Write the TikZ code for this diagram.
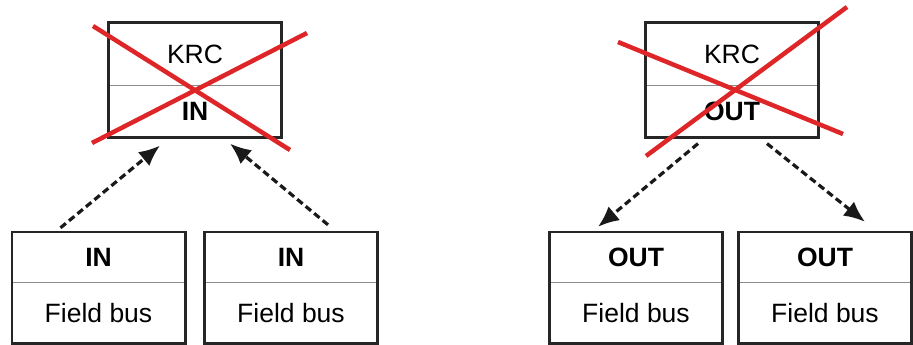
\documentclass[tikz,border=0pt]{standalone}
\usepackage{fontspec}
\setmainfont{Liberation Sans}
\usetikzlibrary{arrows.meta,positioning,calc}

\definecolor{crossred}{RGB}{222,38,40}
\tikzset{
  cell/.style={minimum width=173pt, inner sep=0pt, font=\fontsize{26.5}{30}\selectfont},
  boldcell/.style={cell, font=\fontsize{26.5}{30}\selectfont\bfseries},
  frame/.style={line width=2.6pt, black!85},
  divider/.style={line width=1pt, black!45},
  link/.style={line width=3.2pt, black!90, dash pattern=on 7pt off 4pt, -{Latex[length=21pt,width=18pt]}},
  cross/.style={line width=4.5pt, crossred}
}

\begin{document}
\begin{tikzpicture}[x=1pt,y=-1pt]
  \useasboundingbox (0,0) rectangle (913,345);
  % KRC boxes
  \foreach \n/\x/\t in {krcL/195/IN, krcR/732/OUT}{
    \node[cell, minimum height=62pt] (\n-top) at (\x,54) {KRC};
    \node[boldcell, minimum height=52pt, below=0pt of \n-top] (\n-bot) {\t};
    \draw[divider] (\n-top.south west) -- (\n-top.south east);
    \draw[frame] (\n-top.north west) rectangle (\n-bot.south east);
  }
  % field bus boxes
  \foreach \n/\x/\t in {fbA/98.5/IN, fbB/291/IN, fbC/636/OUT, fbD/825/OUT}{
    \node[boldcell, minimum height=50pt] (\n-top) at (\x,257) {\t};
    \node[cell, minimum height=61pt, below=0pt of \n-top] (\n-bot) {Field bus};
    \draw[divider] (\n-top.south west) -- (\n-top.south east);
    \draw[frame] (\n-top.north west) rectangle (\n-bot.south east);
  }
  % dashed links
  \draw[link] ($(fbA-top.north)+(-38,-4)$) -- ($(krcL-bot.south)+(-35,8)$);
  \draw[link] ($(fbB-top.north)+(37,-7)$) -- ($(krcL-bot.south)+(35,6)$);
  \draw[link] ($(krcR-bot.south)+(-34,6)$) -- ($(fbC-top.north)+(-38,-5)$);
  \draw[link] ($(krcR-bot.south)+(35,6)$) -- ($(fbD-top.north)+(40,-10)$);
  % crossed out
  \draw[cross] (93,26) -- (290,150);
  \draw[cross] (307,33) -- (92,143);
  \draw[cross] (618,42) -- (843,134);
  \draw[cross] (646,156) -- (847,7);
\end{tikzpicture}
\end{document}
